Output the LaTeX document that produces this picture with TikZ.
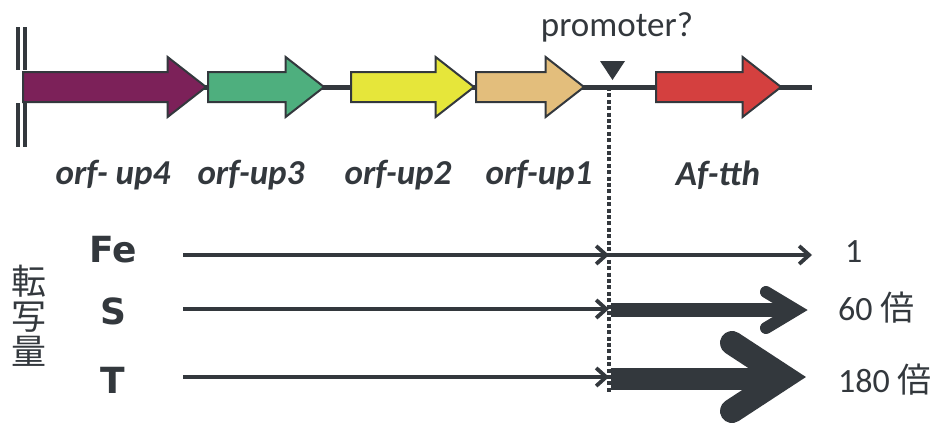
\documentclass[tikz,border=0pt]{standalone}
\usepackage{fontspec}
\setmainfont{Carlito}
\newfontfamily\heavyfont{DejaVu Sans}
\newfontfamily\cjkfont{Noto Sans CJK JP}
\usetikzlibrary{shapes.arrows,arrows.meta}
\definecolor{ink}{HTML}{33383D}
\definecolor{gpurple}{HTML}{7C2159}
\definecolor{ggreen}{HTML}{4EAF7E}
\definecolor{gyellow}{HTML}{E6E63A}
\definecolor{gtan}{HTML}{E3BE7C}
\definecolor{gred}{HTML}{D4403F}
\tikzset{
  gene/.style={single arrow, draw=ink, line width=2pt, fill=#1,
    anchor=tail, inner xsep=0pt, inner ysep=14pt, text height=0pt, text depth=0pt,
    single arrow head extend=15pt, single arrow tip angle=76, single arrow head indent=0pt},
  genelabel/.style={font=\fontsize{35}{40}\selectfont\bfseries\itshape, text=ink, inner sep=0pt},
  strain/.style={font=\heavyfont\bfseries\fontsize{36}{40}\selectfont, text=ink, inner sep=0pt},
  amount/.style={font=\fontsize{34}{38}\selectfont, text=ink, inner sep=0pt, anchor=west},
  readline/.style={draw=ink, line width=3.8pt, -{Straight Barb[length=10pt,width=18pt]}},
  backbone/.style={draw=ink, line width=5pt},
}
\begin{document}
\begin{tikzpicture}[x=1pt,y=-1pt]
\useasboundingbox[fill=white] (0,0) rectangle (934,423);

% chromosome backbone and break marks
\coordinate (bstart) at (22,87);
\coordinate (bend) at (812,87);
\draw[backbone] (bstart) -- (bend);
\draw[ink, line width=3.8pt] (18,27) -- (18,70) (25,27) -- (25,70)
                           (18,103) -- (18,147) (25,103) -- (25,147);

% genes
\node[gene=gpurple, minimum height=183pt] (up4) at (22,87) {};
\node[gene=ggreen,  minimum height=116pt] (up3) at (207,87) {};
\node[gene=gyellow, minimum height=123pt] (up2) at (350,87) {};
\node[gene=gtan,    minimum height=108pt] (up1) at (475,87) {};
\node[gene=gred,    minimum height=125pt] (tth) at (655,87) {};

% promoter mark
\coordinate (prom) at (609,87);
\fill[ink] (600,61) -- (625,61) -- (612.5,80) -- cycle;
\node[font=\fontsize{35}{40}\selectfont, text=ink, inner sep=0pt] (promlabel) at (617,27) {promoter?};
\coordinate (promfoot) at (609,394);
\draw[ink, line width=4.6pt, dash pattern=on 4pt off 2.4pt] (prom) -- (promfoot);

% gene names
\node[genelabel] (l4) at (113,175) {orf- up4};
\node[genelabel] (l3) at (251,175) {orf-up3};
\node[genelabel] (l2) at (398,175) {orf-up2};
\node[genelabel] (l1) at (539,175) {orf-up1};
\node[genelabel] (lt) at (718,175) {Af-tth};

% transcription levels
\node[font=\cjkfont\fontsize{35}{35}\selectfont, text=ink, align=center, inner sep=0pt] (yl) at (29,316) {転\\写\\量};
\node[strain] (fe) at (113,250) {Fe};
\node[strain] (s)  at (113,311) {S};
\node[strain] (t)  at (113,380) {T};

\coordinate (fe0) at (183,255);
\coordinate (fe1) at (609,255);
\coordinate (fe2) at (812,255);
\coordinate (s0) at (183,309);
\coordinate (s1) at (609,309);
\coordinate (t0) at (183,377);
\coordinate (t1) at (609,377);

\draw[readline] (fe0) -- (fe1);
\draw[readline] (s0) -- (s1);
\draw[readline] (t0) -- (t1);
\draw[readline] (fe1) -- (fe2);

% strong transcripts
\draw[ink, line width=14pt] (611,310) -- (790,310);
\draw[ink, line width=12pt, line cap=round, miter limit=20] (766,292) -- (796,310) -- (766,328);
\coordinate (s2) at (808,310);
\draw[ink, line width=22pt] (611,379) -- (775,379);
\draw[ink, line width=24pt, line cap=round, miter limit=20] (732,343) -- (784,377) -- (732,411);
\coordinate (t2) at (806,377);

\node[amount] (a1) at (845,252) {1};
\node[amount] (a2) at (838,308) {60 \cjkfont 倍};
\node[amount] (a3) at (838,380) {180 \cjkfont 倍};
\end{tikzpicture}
\end{document}
